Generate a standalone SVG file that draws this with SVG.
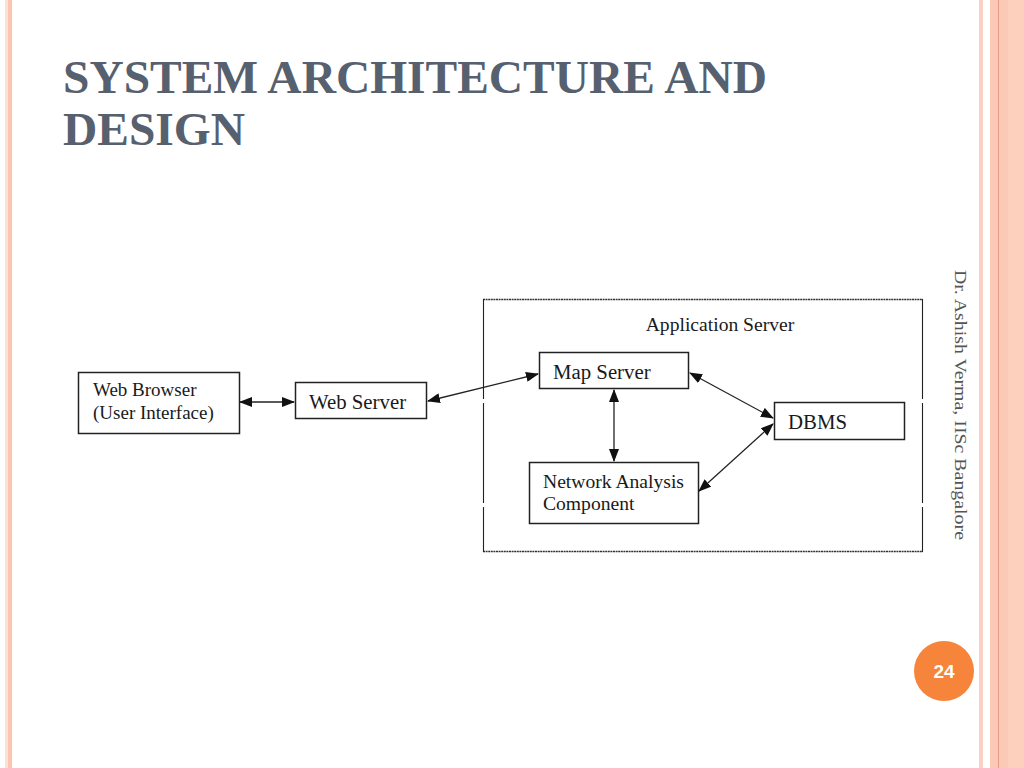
<svg xmlns="http://www.w3.org/2000/svg" width="1024" height="768" viewBox="0 0 1024 768">
<style>
.box{fill:#fff;stroke:#222;stroke-width:1.5}
.lbl{font-family:"Liberation Serif",serif;font-size:19px;fill:#1a1a1a}
.big{font-size:20.8px}
.mid{font-size:19.6px}
.conn{stroke:#222;stroke-width:1.3;fill:none;marker-start:url(#ah);marker-end:url(#ah)}
</style>
<defs>
<marker id="ah" viewBox="0 0 13 10" refX="12" refY="5" markerWidth="13" markerHeight="10" markerUnits="userSpaceOnUse" orient="auto-start-reverse">
<path d="M0,0 L13,5 L0,10 Z" fill="#111"/>
</marker>
</defs>
<rect width="1024" height="768" fill="#fff"/>
<!-- borders -->
<rect x="5" y="0" width="3" height="768" fill="#f8e3d6"/>
<rect x="8" y="0" width="4" height="768" fill="#fcc4b2"/>
<rect x="979" y="0" width="4" height="768" fill="#fcd0c2"/>
<rect x="990" y="0" width="34" height="768" fill="#fcc9b6"/>
<rect x="1008" y="0" width="16" height="768" fill="#fdcfbd"/>
<rect x="998" y="0" width="1" height="768" fill="#e59c82"/>
<!-- title -->
<text font-family="Liberation Serif,serif" font-weight="bold" font-size="46" fill="#56606e">
<tspan x="63" y="93" textLength="704" lengthAdjust="spacingAndGlyphs">SYSTEM ARCHITECTURE AND</tspan>
<tspan x="63" y="145" textLength="182" lengthAdjust="spacingAndGlyphs">DESIGN</tspan>
</text>
<!-- side text -->
<text transform="translate(955,270) rotate(90)" font-family="Liberation Serif,serif" font-size="17" fill="#555" textLength="270" lengthAdjust="spacingAndGlyphs">Dr. Ashish Verma, IISc Bangalore</text>
<!-- page number -->
<g id="page">
<circle cx="944" cy="671" r="30" fill="#f6843a"/>
<text x="944" y="678" text-anchor="middle" font-family="Liberation Sans,sans-serif" font-weight="bold" font-size="19" fill="#fff">24</text>
</g>
<!-- app server container -->
<g id="appserver">
<line x1="483" y1="299.5" x2="923" y2="299.5" stroke="#333" stroke-width="1.5" stroke-dasharray="2,0.6"/>
<line x1="483" y1="551.5" x2="923" y2="551.5" stroke="#333" stroke-width="1.5" stroke-dasharray="2,0.6"/>
<line x1="483.5" y1="299" x2="483.5" y2="552" stroke="#222" stroke-width="1.1" stroke-dasharray="100,4"/>
<line x1="922.5" y1="299" x2="922.5" y2="552" stroke="#222" stroke-width="1.1" stroke-dasharray="100,4"/>
<text x="720" y="331" text-anchor="middle" class="lbl mid">Application Server</text>
</g>
<g id="webbrowser">
<rect class="box" x="78.5" y="372.5" width="161" height="61"/>
<text class="lbl" x="93" y="396">Web Browser</text>
<text class="lbl" x="93" y="419">(User Interface)</text>
</g>
<g id="webserver">
<rect class="box" x="295.5" y="382.5" width="131" height="36"/>
<text class="lbl big" x="309" y="409">Web Server</text>
</g>
<g id="mapserver">
<rect class="box" x="539.5" y="352.5" width="149" height="36"/>
<text class="lbl big" x="553" y="379">Map Server</text>
</g>
<g id="dbms">
<rect class="box" x="774.5" y="402.5" width="130" height="37"/>
<text class="lbl big" x="788" y="429">DBMS</text>
</g>
<g id="network">
<rect class="box" x="529.5" y="462.5" width="169" height="61"/>
<text class="lbl mid" x="543" y="488">Network Analysis</text>
<text class="lbl mid" x="543" y="510">Component</text>
</g>
<g id="connectors">
<line class="conn" x1="240" y1="402" x2="294" y2="402"/>
<line class="conn" x1="428" y1="401" x2="538" y2="374"/>
<line class="conn" x1="614" y1="390" x2="614" y2="461"/>
<line class="conn" x1="690" y1="373" x2="773" y2="418"/>
<line class="conn" x1="699" y1="491" x2="773" y2="424"/>
</g>
</svg>
